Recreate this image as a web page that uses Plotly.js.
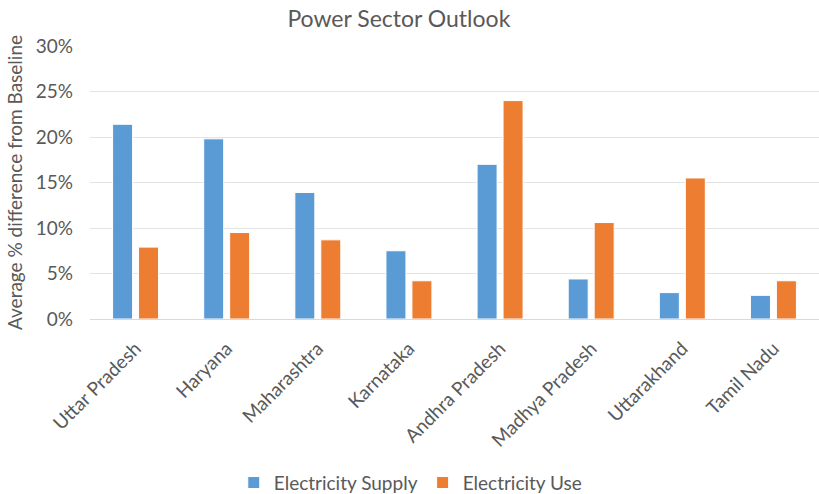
<!DOCTYPE html>
<html>
<head>
<meta charset="utf-8">
<script src="https://cdn.plot.ly/plotly-3.0.1.min.js"></script>
<style>
  html, body { margin: 0; padding: 0; background: #ffffff; }
  #chart { width: 819px; height: 494px; }
</style>
</head>
<body>
<div id="chart"></div>
<script>
// States compared in the outlook
const states = [
  'Uttar Pradesh', 'Haryana', 'Maharashtra', 'Karnataka',
  'Andhra Pradesh', 'Madhya Pradesh', 'Uttarakhand', 'Tamil Nadu'
];

// Average % difference from baseline, as fractions
const electricitySupply = [0.214, 0.198, 0.139, 0.075, 0.170, 0.044, 0.029, 0.026];
const electricityUse    = [0.079, 0.095, 0.087, 0.042, 0.240, 0.106, 0.155, 0.042];

const textColor = '#595959';
const family = 'Lato, "Open Sans", sans-serif';
const font = { family: family, size: 19, color: textColor };

const traces = [
  {
    type: 'bar',
    name: 'Electricity Supply',
    x: states,
    y: electricitySupply,
    marker: { color: '#5B9BD5', line: { color: '#ffffff', width: 1 } },
    hoverinfo: 'x+y'
  },
  {
    type: 'bar',
    name: 'Electricity Use',
    x: states,
    y: electricityUse,
    marker: { color: '#ED7D31', line: { color: '#ffffff', width: 1 } },
    hoverinfo: 'x+y'
  }
];

const layout = {
  width: 819,
  height: 494,
  margin: { l: 90, r: 0, t: 46, b: 175, autoexpand: false },
  paper_bgcolor: '#ffffff',
  plot_bgcolor: '#ffffff',
  font: font,
  title: {
    text: 'Power Sector Outlook',
    font: { family: family, size: 23, color: textColor },
    x: 0.487,
    xanchor: 'center',
    y: 0.962,
    yanchor: 'middle'
  },
  barmode: 'group',
  bargap: 0.43,
  bargroupgap: 0.23,
  xaxis: {
    type: 'category',
    automargin: false,
    tickangle: -45,
    tickfont: font,
    ticklabelstandoff: 10,
    showgrid: false,
    showline: true,
    linecolor: '#d9d9d9',
    linewidth: 1,
    ticks: '',
    fixedrange: true
  },
  yaxis: {
    range: [0, 0.30],
    dtick: 0.05,
    tickformat: '.0%',
    automargin: false,
    tickfont: font,
    ticklabelstandoff: 16,
    ticks: '',
    gridcolor: '#e3e3e3',
    gridwidth: 1,
    zeroline: false,
    showline: false,
    fixedrange: true,
    title: {
      text: 'Average % difference from Baseline',
      font: font,
      standoff: 8
    }
  },
  legend: {
    orientation: 'h',
    x: 0.44,
    xanchor: 'center',
    y: -0.53,
    yanchor: 'top',
    font: font,
    itemwidth: 30,
    traceorder: 'normal'
  },
  showlegend: true
};

Plotly.newPlot('chart', traces, layout, { displayModeBar: false, staticPlot: true });
</script>
</body>
</html>
